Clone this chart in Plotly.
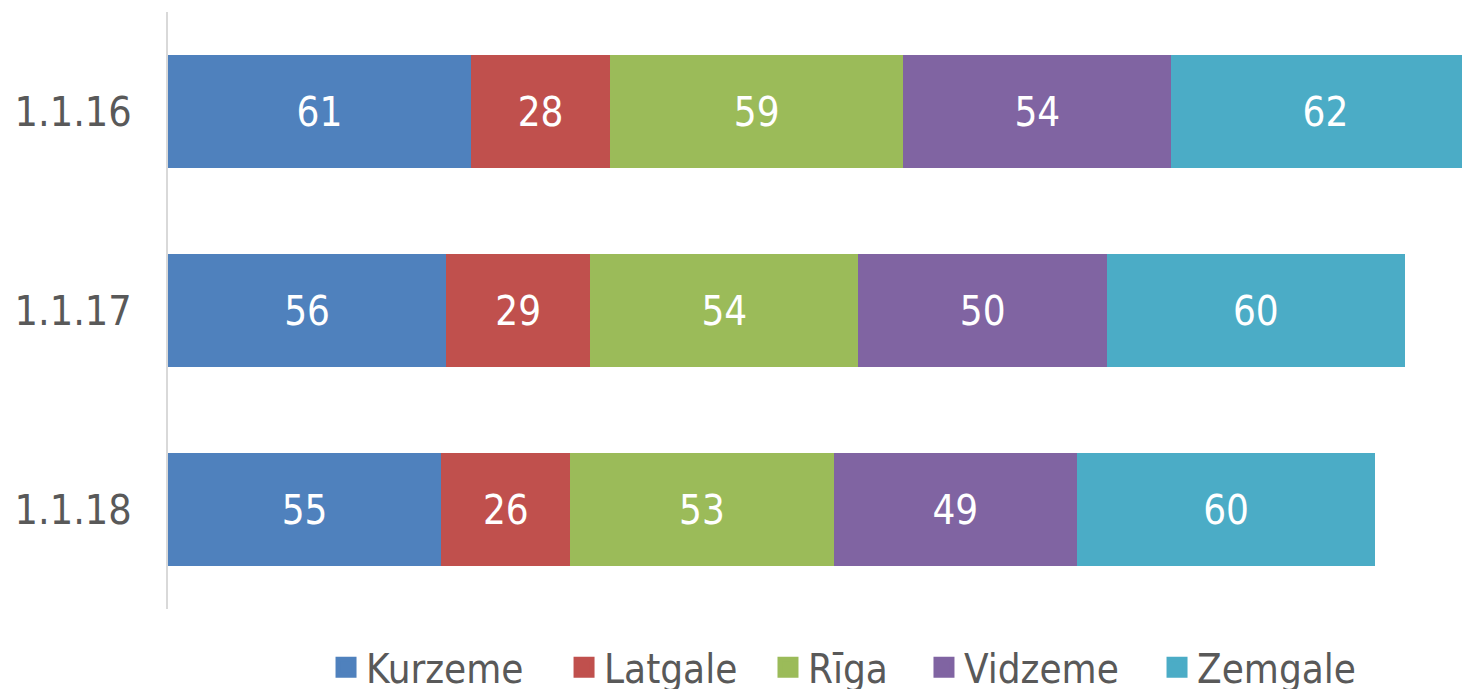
import plotly.graph_objects as go

categories = ["1.1.16", "1.1.17", "1.1.18"]
regions = ["Kurzeme", "Latgale", "Rīga", "Vidzeme", "Zemgale"]
kurzeme = [61, 56, 55]
latgale = [28, 29, 26]
riga = [59, 54, 53]
vidzeme = [54, 50, 49]
zemgale = [62, 60, 60]
series = [kurzeme, latgale, riga, vidzeme, zemgale]
colors = ["#4F81BD", "#C0504D", "#9BBB59", "#8064A2", "#4BACC6"]
legend_x = [0.2230, 0.3858, 0.5253, 0.6320, 0.7914]

FONT = "DejaVu Sans Condensed, DejaVu Sans, sans-serif"

fig = go.Figure()
for i, (name, vals, col) in enumerate(zip(regions, series, colors)):
    fig.add_trace(go.Bar(
        y=categories, x=vals, name=name, orientation="h",
        marker=dict(color=col, line=dict(width=0)),
        text=[str(v) for v in vals], textposition="inside",
        insidetextanchor="middle", constraintext="none",
        textfont=dict(color="white", size=40, family=FONT),
        showlegend=False, cliponaxis=True,
    ))
    fig.add_trace(go.Scatter(
        x=[None], y=[None], mode="markers", name=name,
        marker=dict(symbol="square", size=16, color=col, line=dict(width=5, color=col)),
        showlegend=True, legend="legend" if i == 0 else f"legend{i+1}",
    ))

legends = {}
for i, lx in enumerate(legend_x):
    key = "legend" if i == 0 else f"legend{i+1}"
    legends[key] = dict(orientation="h", xref="container", yref="container",
                        x=lx, xanchor="left", y=0.0315, yanchor="middle",
                        font=dict(size=40, color="#595959", family=FONT),
                        itemsizing="trace", bgcolor="rgba(0,0,0,0)", borderwidth=0)

fig.update_layout(
    barmode="stack",
    bargap=0.432,
    width=1462, height=689,
    margin=dict(l=168, r=0, t=12, b=80),
    paper_bgcolor="white", plot_bgcolor="white",
    font=dict(family=FONT, color="#595959"),
    xaxis=dict(range=[0, 260.5], showgrid=False, zeroline=False, showticklabels=False,
               showline=False, ticks=""),
    yaxis=dict(categoryorder="array", categoryarray=categories, autorange="reversed",
               showline=True, linecolor="#D9D9D9", linewidth=2, showgrid=False,
               zeroline=False, ticks="", ticklabelstandoff=26,
               tickfont=dict(size=41, color="#595959", family=FONT)),
    **legends,
)

fig.write_html("out.html", config={"displayModeBar": False},
               post_script="document.body.style.margin='0';document.body.style.overflow='hidden';")
